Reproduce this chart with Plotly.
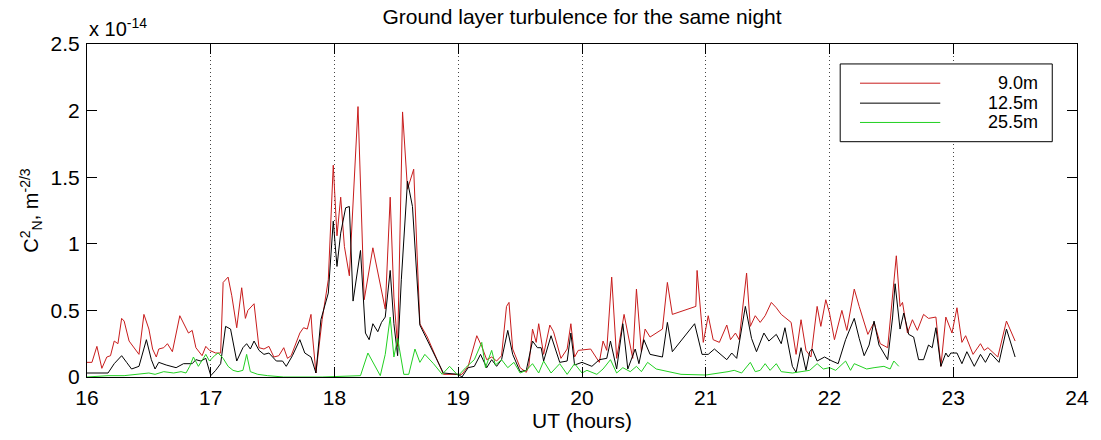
import plotly.graph_objects as go

# C_N^2 values in units of 1e-14 m^-2/3, UT in hours
t_9m = [16.00, 16.04, 16.08, 16.12, 16.16, 16.19, 16.22, 16.25, 16.28, 16.30,
        16.34, 16.38, 16.42, 16.46, 16.50, 16.53, 16.56, 16.58, 16.62, 16.65,
        16.69, 16.75, 16.79, 16.82, 16.85, 16.88, 16.93, 16.96, 16.99, 17.04,
        17.08, 17.10, 17.14, 17.17, 17.21, 17.25, 17.28, 17.30, 17.35, 17.39,
        17.43, 17.47, 17.51, 17.55, 17.59, 17.62, 17.65, 17.69, 17.72, 17.75,
        17.78, 17.81, 17.82, 17.85, 17.90, 17.95, 17.99, 18.02, 18.05, 18.08,
        18.12, 18.19, 18.24, 18.31, 18.41, 18.45, 18.48, 18.51, 18.55, 18.59,
        18.64, 18.69, 18.75, 18.88, 18.99, 19.03, 19.08, 19.15, 19.19, 19.23,
        19.27, 19.31, 19.35, 19.39, 19.41, 19.44, 19.50, 19.55, 19.57, 19.60,
        19.63, 19.65, 19.69, 19.74, 19.77, 19.83, 19.88, 19.91, 19.94, 19.97,
        20.07, 20.14, 20.17, 20.20, 20.24, 20.28, 20.34, 20.37, 20.41, 20.44,
        20.48, 20.51, 20.55, 20.65, 20.69, 20.73, 20.92, 20.93, 20.98, 21.02,
        21.06, 21.11, 21.17, 21.20, 21.24, 21.27, 21.33, 21.36, 21.40, 21.44,
        21.48, 21.53, 21.57, 21.61, 21.65, 21.69, 21.73, 21.77, 21.81, 21.85,
        21.90, 21.93, 21.97, 22.00, 22.04, 22.10, 22.14, 22.20, 22.24, 22.31,
        22.36, 22.41, 22.47, 22.54, 22.57, 22.59, 22.63, 22.67, 22.71, 22.76,
        22.80, 22.86, 22.90, 22.94, 22.99, 23.03, 23.07, 23.10, 23.16, 23.22,
        23.25, 23.28, 23.36, 23.43, 23.50]
cn2_9m = [0.11, 0.11, 0.23, 0.065, 0.15, 0.16, 0.27, 0.25, 0.44, 0.42,
          0.27, 0.22, 0.17, 0.47, 0.36, 0.21, 0.15, 0.21, 0.22, 0.25,
          0.19, 0.46, 0.38, 0.33, 0.35, 0.22, 0.16, 0.23, 0.20, 0.18,
          0.18, 0.71, 0.75, 0.61, 0.37, 0.67, 0.44, 0.50, 0.55, 0.22,
          0.21, 0.23, 0.15, 0.16, 0.22, 0.14, 0.16, 0.26, 0.33, 0.37,
          0.36, 0.47, 0.33, 0.03, 0.43, 0.73, 1.59, 1.06, 1.35, 0.98,
          0.76, 2.03, 0.58, 0.97, 0.51, 1.35, 0.60, 0.23, 1.99, 1.41,
          1.56, 0.40, 0.30, 0.02, 0.02, 0.02, 0.08, 0.31, 0.23, 0.13,
          0.15, 0.12, 0.16, 0.53, 0.56, 0.21, 0.07, 0.035, 0.08, 0.36,
          0.26, 0.40, 0.17, 0.39, 0.34, 0.14, 0.21, 0.40, 0.15, 0.20,
          0.21, 0.11, 0.27, 0.20, 0.75, 0.14, 0.47, 0.32, 0.14, 0.66,
          0.19, 0.36, 0.30, 0.36, 0.71, 0.47, 0.53, 0.80, 0.26, 0.46,
          0.28, 0.26, 0.39, 0.28, 0.33, 0.28, 0.78, 0.38, 0.46, 0.41,
          0.46, 0.56, 0.52, 0.47, 0.44, 0.41, 0.17, 0.43, 0.20, 0.15,
          0.53, 0.38, 0.58, 0.48, 0.28, 0.50, 0.35, 0.66, 0.53, 0.32,
          0.41, 0.25, 0.22, 0.91, 0.53, 0.56, 0.33, 0.43, 0.35, 0.47,
          0.44, 0.45, 0.08, 0.45, 0.33, 0.52, 0.26, 0.31, 0.17, 0.25,
          0.20, 0.22, 0.15, 0.42, 0.27]

t_12m = [16.00, 16.17, 16.22, 16.28, 16.32, 16.36, 16.42, 16.48, 16.52, 16.55,
         16.58, 16.64, 16.72, 16.78, 16.85, 16.88, 16.92, 16.96, 17.00, 17.04,
         17.08, 17.12, 17.16, 17.21, 17.26, 17.29, 17.32, 17.35, 17.39, 17.43,
         17.47, 17.53, 17.58, 17.61, 17.66, 17.72, 17.76, 17.81, 17.85, 17.89,
         17.95, 17.99, 18.02, 18.05, 18.09, 18.12, 18.15, 18.21, 18.25, 18.28,
         18.31, 18.35, 18.38, 18.41, 18.45, 18.48, 18.51, 18.54, 18.59, 18.63,
         18.69, 18.88, 19.00, 19.03, 19.08, 19.13, 19.18, 19.23, 19.27, 19.31,
         19.35, 19.40, 19.44, 19.50, 19.55, 19.60, 19.64, 19.67, 19.69, 19.75,
         19.82, 19.88, 19.91, 19.94, 20.00, 20.08, 20.14, 20.20, 20.23, 20.28,
         20.33, 20.37, 20.43, 20.46, 20.50, 20.55, 20.65, 20.69, 20.73, 20.91,
         20.97, 21.02, 21.07, 21.12, 21.17, 21.21, 21.25, 21.32, 21.37, 21.41,
         21.47, 21.51, 21.57, 21.61, 21.64, 21.70, 21.73, 21.77, 21.81, 21.84,
         21.86, 21.90, 21.96, 22.02, 22.07, 22.13, 22.20, 22.24, 22.28, 22.32,
         22.36, 22.40, 22.47, 22.51, 22.53, 22.57, 22.60, 22.64, 22.68, 22.72,
         22.76, 22.80, 22.83, 22.86, 22.90, 22.94, 22.96, 22.98, 23.03, 23.07,
         23.11, 23.17, 23.22, 23.26, 23.30, 23.37, 23.43, 23.50]
cn2_12m = [0.03, 0.03, 0.10, 0.16, 0.11, 0.06, 0.08, 0.28, 0.13, 0.06,
           0.11, 0.09, 0.07, 0.10, 0.10, 0.13, 0.12, 0.14, 0.01, 0.05,
           0.10, 0.38, 0.36, 0.12, 0.22, 0.25, 0.21, 0.27, 0.20, 0.17,
           0.18, 0.12, 0.12, 0.08, 0.16, 0.28, 0.18, 0.15, 0.03, 0.43,
           0.63, 1.17, 0.83, 1.08, 1.27, 1.28, 0.57, 0.95, 0.33, 0.28,
           0.40, 0.34, 0.41, 0.45, 0.80, 0.40, 0.16, 0.73, 1.47, 1.28,
           0.39, 0.03, 0.02, 0.00, 0.07, 0.08, 0.17, 0.07, 0.13, 0.08,
           0.13, 0.35, 0.17, 0.04, 0.05, 0.27, 0.22, 0.22, 0.12, 0.31,
           0.11, 0.12, 0.33, 0.09, 0.11, 0.08, 0.13, 0.14, 0.27, 0.06,
           0.40, 0.06, 0.21, 0.10, 0.28, 0.17, 0.15, 0.41, 0.19, 0.40,
           0.17, 0.17, 0.21, 0.17, 0.13, 0.18, 0.14, 0.53, 0.29, 0.19,
           0.33, 0.27, 0.32, 0.25, 0.37, 0.08, 0.035, 0.22, 0.05, 0.19,
           0.21, 0.12, 0.15, 0.12, 0.10, 0.28, 0.44, 0.29, 0.16, 0.24,
           0.42, 0.24, 0.13, 0.45, 0.70, 0.36, 0.48, 0.32, 0.30, 0.13,
           0.13, 0.24, 0.22, 0.37, 0.08, 0.18, 0.15, 0.18, 0.18, 0.10,
           0.19, 0.08, 0.17, 0.11, 0.18, 0.11, 0.36, 0.15]

t_25m = [16.00, 16.17, 16.30, 16.42, 16.50, 16.55, 16.62, 16.70, 16.76, 16.80,
         16.83, 16.86, 16.90, 16.96, 16.99, 17.03, 17.06, 17.10, 17.14, 17.18,
         17.22, 17.26, 17.29, 17.32, 17.38, 17.46, 17.59, 17.90, 18.21, 18.27,
         18.32, 18.37, 18.41, 18.45, 18.48, 18.51, 18.56, 18.60, 18.65, 18.69,
         18.73, 18.80, 18.87, 18.93, 19.00, 19.06, 19.13, 19.19, 19.22, 19.27,
         19.30, 19.35, 19.40, 19.45, 19.50, 19.55, 19.60, 19.65, 19.69, 19.75,
         19.82, 19.88, 19.94, 20.00, 20.04, 20.12, 20.17, 20.23, 20.28, 20.33,
         20.39, 20.44, 20.48, 20.53, 20.60, 20.80, 21.00, 21.12, 21.18, 21.23,
         21.29, 21.36, 21.40, 21.44, 21.48, 21.52, 21.57, 21.61, 21.70, 21.77,
         21.84, 21.90, 21.95, 22.00, 22.05, 22.13, 22.17, 22.20, 22.30, 22.36,
         22.44, 22.49, 22.52, 22.56]
cn2_25m = [0.00, 0.01, 0.01, 0.02, 0.03, 0.02, 0.04, 0.03, 0.04, 0.03,
           0.08, 0.15, 0.08, 0.17, 0.12, 0.16, 0.18, 0.14, 0.08, 0.05,
           0.04, 0.05, 0.17, 0.04, 0.02, 0.01, 0.00, 0.00, 0.01, 0.18,
           0.10, 0.01, 0.17, 0.45, 0.15, 0.29, 0.02, 0.02, 0.21, 0.11,
           0.17, 0.10, 0.02, 0.08, 0.01, 0.07, 0.13, 0.26, 0.07, 0.20,
           0.09, 0.13, 0.07, 0.11, 0.03, 0.05, 0.10, 0.03, 0.12, 0.03,
           0.10, 0.02, 0.10, 0.03, 0.05, 0.02, 0.06, 0.13, 0.03, 0.07,
           0.04, 0.08, 0.04, 0.11, 0.06, 0.02, 0.015, 0.03, 0.04, 0.05,
           0.03, 0.11, 0.04, 0.05, 0.10, 0.05, 0.10, 0.04, 0.03, 0.04,
           0.05, 0.10, 0.06, 0.07, 0.05, 0.12, 0.05, 0.10, 0.06, 0.07,
           0.08, 0.06, 0.12, 0.08]

series_names = ["9.0m", "12.5m", "25.5m"]
series_colors = ["#c81c1c", "#000000", "#22d022"]
x_ticks = [16, 17, 18, 19, 20, 21, 22, 23, 24]
y_ticks = [0, 0.5, 1, 1.5, 2, 2.5]
y_tick_labels = ["0", "0.5", "1", "1.5", "2", "2.5"]

FONT = "Liberation Sans, Arial, sans-serif"

fig = go.Figure()
for t, v, name, color in zip([t_9m, t_12m, t_25m],
                             [cn2_9m, cn2_12m, cn2_25m],
                             series_names, series_colors):
    fig.add_trace(go.Scatter(x=t, y=v, mode="lines", name=name,
                             line=dict(color=color, width=1),
                             showlegend=False))

# legend box drawn in paper coordinates, labels right-aligned
L_X0, L_X1, L_Y0, L_Y1 = 0.7608, 0.975, 0.7066, 0.9401
fig.add_shape(type="rect", xref="paper", yref="paper",
              x0=L_X0, x1=L_X1, y0=L_Y0, y1=L_Y1,
              line=dict(color="#000", width=1), fillcolor="white", layer="above")
row_y = [0.8823, 0.8224, 0.7644]
for name, color, ry in zip(series_names, series_colors, row_y):
    fig.add_shape(type="line", xref="paper", yref="paper",
                  x0=0.7808, x1=0.8619, y0=ry, y1=ry,
                  line=dict(color=color, width=1), layer="above")
    fig.add_annotation(xref="paper", yref="paper", x=0.963, y=ry,
                       xanchor="right", yanchor="middle", text=name,
                       showarrow=False, font=dict(family=FONT, size=18, color="#000"))

# axis exponent
fig.add_annotation(xref="paper", yref="paper", x=0, y=1, xanchor="left",
                   yanchor="bottom", yshift=2, text="x 10<sup>-14</sup>",
                   showarrow=False, font=dict(family=FONT, size=20, color="#000"))

fig.update_layout(
    width=1101, height=440, autosize=False,
    margin=dict(l=87, r=15, t=44, b=62),
    paper_bgcolor="white", plot_bgcolor="white",
    font=dict(family=FONT, size=21, color="#000"),
    title=dict(text="Ground layer turbulence for the same night",
               x=0.5, xref="paper", xanchor="center",
               y=1 - 17 / 440, yref="container", yanchor="middle",
               font=dict(family=FONT, size=21, color="#000")),
    xaxis=dict(range=[16, 24], tickvals=x_ticks, ticktext=[str(v) for v in x_ticks],
               ticks="inside", ticklen=10, tickcolor="#000", mirror="ticks",
               ticklabelstandoff=2,
               showline=True, linecolor="#000", linewidth=1,
               showgrid=True, gridcolor="#444", griddash="1px,3px", gridwidth=1,
               zeroline=False,
               title=dict(text="UT (hours)", standoff=4, font=dict(size=21))),
    yaxis=dict(range=[0, 2.5], tickvals=y_ticks, ticktext=y_tick_labels,
               ticks="inside", ticklen=10, tickcolor="#000", mirror="ticks",
               ticklabelstandoff=2,
               showline=True, linecolor="#000", linewidth=1,
               showgrid=False, zeroline=False,
               title=dict(text="C<sup>2</sup><sub>N</sub>, m<sup>-2/3</sup>",
                          standoff=6, font=dict(size=20))),
)

fig.write_html("out.html")
